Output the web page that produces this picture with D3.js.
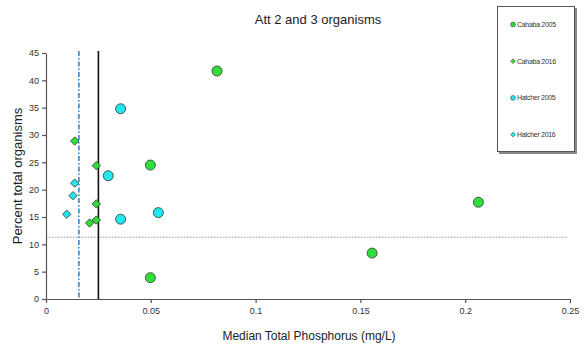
<!DOCTYPE html>
<html><head><meta charset="utf-8">
<script src="https://cdn.jsdelivr.net/npm/d3@7"></script>
<style>body{margin:0;background:#fff}svg{display:block}</style>
</head><body><svg id="c" width="586" height="350"></svg>
<script>
const seriesNames = ["Cahaba 2005", "Cahaba 2016", "Hatcher 2005", "Hatcher 2016"];
const cahaba2005 = [[0.0498, 24.5], [0.0498, 3.9], [0.0816, 41.7], [0.1556, 8.4], [0.2063, 17.7]];
const cahaba2016 = [[0.0137, 28.9], [0.024, 24.4], [0.024, 17.4], [0.024, 14.45], [0.0208, 13.9]];
const hatcher2005 = [[0.0356, 34.8], [0.0297, 22.55], [0.0356, 14.6], [0.0536, 15.8]];
const hatcher2016 = [[0.0137, 21.2], [0.0129, 18.9], [0.0099, 15.5]];
const xTicks = [0, 0.05, 0.1, 0.15, 0.2, 0.25];
const xTickLabels = ["0", "0.05", "0.1", "0.15", "0.2", "0.25"];
const yTicks = [0, 5, 10, 15, 20, 25, 30, 35, 40, 45];
const refSolidX = 0.025;
const refDashX = 0.0157;
const refDottedY = 11.3;

const svg = d3.select("#c");
const x = d3.scaleLinear().domain([0, 0.25]).range([46, 570]);
const y = d3.scaleLinear().domain([0, 45]).range([299, 53]);
const font = "Arial, 'Liberation Sans', sans-serif";

// reference lines
svg.append("line").attr("x1", x(0)).attr("x2", x(0.25) - 2).attr("y1", y(refDottedY)).attr("y2", y(refDottedY))
  .attr("stroke", "#999").attr("stroke-width", 1).attr("stroke-dasharray", "1.5,1.5");
svg.append("line").attr("x1", x(refDashX)).attr("x2", x(refDashX)).attr("y1", y(45) - 2).attr("y2", y(0))
  .attr("stroke", "#3a86c8").attr("stroke-width", 1.6).attr("stroke-dasharray", "5,2,1.5,2");
svg.append("line").attr("x1", x(refSolidX)).attr("x2", x(refSolidX)).attr("y1", y(45) - 2).attr("y2", y(0))
  .attr("stroke", "#111").attr("stroke-width", 1.6);

// axes
const xAxis = svg.append("g").attr("transform", `translate(0,${y(0)})`)
  .call(d3.axisBottom(x).tickValues(xTicks).tickFormat((d, i) => xTickLabels[i]).tickSize(4).tickSizeOuter(0));
const yAxis = svg.append("g").attr("transform", `translate(${x(0)},0)`)
  .call(d3.axisLeft(y).tickValues(yTicks).tickSize(4).tickSizeOuter(0));
[xAxis, yAxis].forEach(g => {
  g.selectAll("path,line").attr("stroke", "#555").attr("stroke-width", 1.2);
  g.selectAll("text").attr("fill", "#333").attr("font-size", 9).attr("font-family", font);
});
xAxis.selectAll("text").attr("dy", "0.9em");

const green = "#2fe03a", cyan = "#22e6f0", edge = "#3b4a3b";
const circle = (data, col) => svg.append("g").selectAll("circle").data(data).join("circle")
  .attr("cx", d => x(d[0])).attr("cy", d => y(d[1])).attr("r", 5)
  .attr("fill", col).attr("stroke", edge).attr("stroke-width", 0.9);
const diamond = (data, col) => svg.append("g").selectAll("path").data(data).join("path")
  .attr("d", d3.symbol(d3.symbolDiamond2, 44))
  .attr("transform", d => `translate(${x(d[0])},${y(d[1])})`)
  .attr("fill", col).attr("stroke", edge).attr("stroke-width", 0.9);
circle(cahaba2005, green);
diamond(cahaba2016, green);
circle(hatcher2005, cyan);
diamond(hatcher2016, cyan);

// titles
svg.append("text").attr("x", 318).attr("y", 24).attr("text-anchor", "middle")
  .attr("font-family", font).attr("font-size", 13).attr("fill", "#222").text("Att 2 and 3 organisms");
svg.append("text").attr("transform", "translate(22,176) rotate(-90)").attr("text-anchor", "middle")
  .attr("font-family", font).attr("font-size", 13).attr("fill", "#222").text("Percent total organisms");
svg.append("text").attr("x", 309).attr("y", 340).attr("text-anchor", "middle")
  .attr("font-family", font).attr("font-size", 12).attr("fill", "#222").text("Median Total Phosphorus (mg/L)");

// legend
const lg = svg.append("g");
lg.append("rect").attr("x", 499).attr("y", 8).attr("width", 78).attr("height", 146).attr("fill", "#888");
lg.append("rect").attr("x", 497.5).attr("y", 6.5).attr("width", 77).attr("height", 145)
  .attr("fill", "#fff").attr("stroke", "#555").attr("stroke-width", 1);
const legendItems = [
  { name: seriesNames[0], col: green, shape: "c" },
  { name: seriesNames[1], col: green, shape: "d" },
  { name: seriesNames[2], col: cyan, shape: "c" },
  { name: seriesNames[3], col: cyan, shape: "d" }];
legendItems.forEach((it, i) => {
  const cy = 24.5 + i * 36.7;
  if (it.shape === "c") lg.append("circle").attr("cx", 513).attr("cy", cy).attr("r", 2.4)
    .attr("fill", it.col).attr("stroke", edge).attr("stroke-width", 0.6);
  else lg.append("path").attr("d", d3.symbol(d3.symbolDiamond2, 14)).attr("transform", `translate(513,${cy})`)
    .attr("fill", it.col).attr("stroke", edge).attr("stroke-width", 0.6);
  lg.append("text").attr("x", 517).attr("y", cy).attr("dy", "0.35em").attr("font-family", font)
    .attr("font-size", 7).attr("letter-spacing", -0.3).attr("fill", "#333").text(it.name);
});
</script></body></html>
